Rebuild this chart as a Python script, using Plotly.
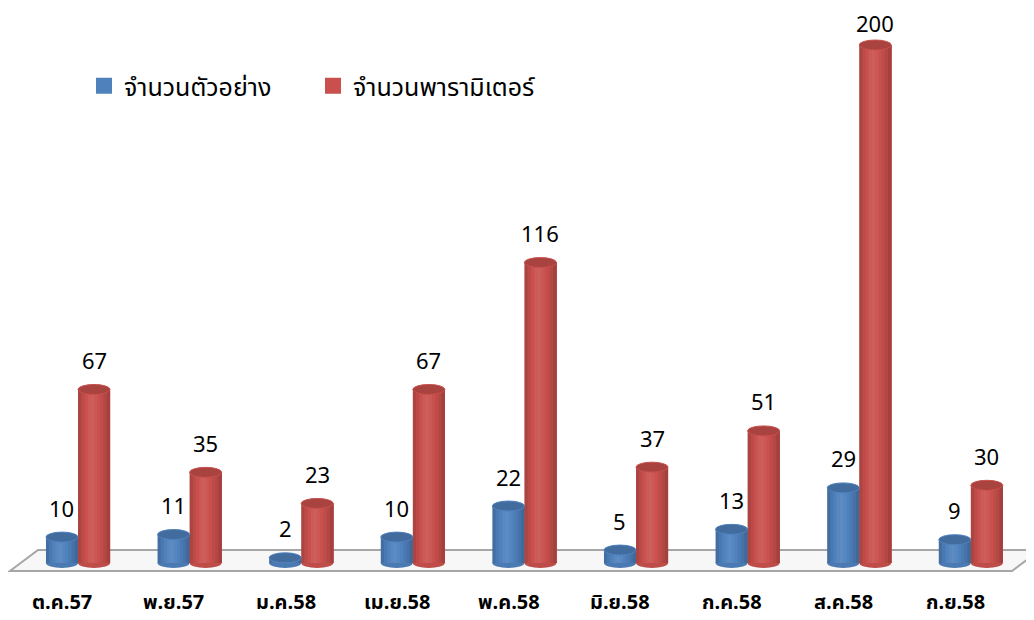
import plotly.graph_objects as go

categories = ["ต.ค.57", "พ.ย.57", "ม.ค.58", "เม.ย.58", "พ.ค.58", "มิ.ย.58", "ก.ค.58", "ส.ค.58", "ก.ย.58"]
samples = [10, 11, 2, 10, 22, 5, 13, 29, 9]
params = [67, 35, 23, 67, 116, 37, 51, 200, 30]
series_names = ["จำนวนตัวอย่าง", "จำนวนพารามิเตอร์"]

# page has an 8px body margin: the figure starts at (8, 8)
OFF = 8
W, H = 1034 - OFF, 620 - OFF
BLUE = (79, 129, 189)
RED = (201, 80, 77)
FONT = "Tahoma, 'Noto Sans Thai', 'Noto Sans', 'DejaVu Sans', sans-serif"


def shade(rgb, k):
    if k >= 1:
        return "rgb(%d,%d,%d)" % tuple(min(255, int(c + (255 - c) * (k - 1))) for c in rgb)
    return "rgb(%d,%d,%d)" % tuple(int(c * k) for c in rgb)


n = len(categories)
x = list(range(n))
bw = 0.287           # bar width in category units
step = 111.6         # pixels per category
xr = [-(78 - OFF) / step, (W - (78 - OFF)) / step]
ppu = 2.59           # pixels per value unit
base_px = 563 - OFF
yr = [-(H - base_px) / ppu, base_px / ppu]
cap_h = 10 / ppu

# brightness profile across a cylinder (left -> right)
profile = [0.86, 0.94, 1.0, 1.06, 1.08, 1.05, 1.0, 0.95, 0.89, 0.82]
ns = len(profile)
sw = bw / ns

fig = go.Figure()
for vals, rgb, start, name in [(samples, BLUE, -bw, series_names[0]), (params, RED, 0, series_names[1])]:
    for k, b in enumerate(profile):
        # each strip runs to the right edge so later strips overlap earlier ones (no seams)
        fig.add_trace(go.Bar(x=x, y=vals, name=name, marker_color=shade(rgb, b),
                             marker_line_width=0, offset=start + k * sw, width=bw - k * sw,
                             showlegend=False, hoverinfo="skip" if k else None))
# legend entries
for name, rgb in zip(series_names, [BLUE, RED]):
    fig.add_trace(go.Scatter(x=[None], y=[None], mode="markers", name=name,
                             marker=dict(symbol="square", size=22, color=shade(rgb, 1.0))))


def fp(xp, yp):
    return f"{(xp - OFF) / W} {1 - (yp - OFF) / H}"


# floor (decorative)
fig.add_shape(type="path", xref="paper", yref="paper", layer="below",
              path=f"M {fp(10, 571)} L {fp(1012, 571)} L {fp(1040, 550)} L {fp(38, 550)} Z",
              fillcolor="#f7f7f7", line=dict(color="#a6a6a6", width=2))

annotations = []
for i in range(n):
    for off, val, rgb in [(-bw, samples[i], BLUE), (0, params[i], RED)]:
        x0, x1 = i + off, i + off + bw
        fig.add_shape(type="circle", xref="x", yref="y", x0=x0, x1=x1,
                      y0=-cap_h / 2, y1=cap_h / 2, fillcolor=shade(rgb, 0.95),
                      line_width=0, layer="below")
        fig.add_shape(type="circle", xref="x", yref="y", x0=x0, x1=x1,
                      y0=val - cap_h / 2, y1=val + cap_h / 2, fillcolor=shade(rgb, 0.84),
                      line=dict(color=shade(rgb, 1.0), width=1), layer="above")
        top_px = base_px - val * ppu          # bar top within the figure
        shift = min(27, top_px - 17)          # keep the label inside the figure
        annotations.append(dict(x=i + off + bw / 2, y=val, xref="x", yref="y",
                                text=str(val), showarrow=False, yshift=shift,
                                font=dict(size=22, color="black", family=FONT)))
    annotations.append(dict(x=i - 0.14, y=-15.6, xref="x", yref="y",
                            text="<b>" + categories[i] + "</b>", showarrow=False,
                            font=dict(size=20, color="black", family=FONT)))

fig.update_layout(
    width=W, height=H,
    margin=dict(l=0, r=0, t=0, b=0),
    paper_bgcolor="white", plot_bgcolor="white",
    barmode="overlay",
    showlegend=True,
    legend=dict(orientation="h", x=(84 - OFF) / W, y=1 - (63 - OFF) / H,
                xanchor="left", yanchor="top", itemsizing="trace",
                entrywidth=184, entrywidthmode="pixels",
                font=dict(size=25, family=FONT, color="black"),
                bgcolor="rgba(0,0,0,0)"),
    xaxis=dict(range=xr, visible=False),
    yaxis=dict(range=yr, visible=False),
    annotations=annotations,
)

fig.write_html("out.html")
